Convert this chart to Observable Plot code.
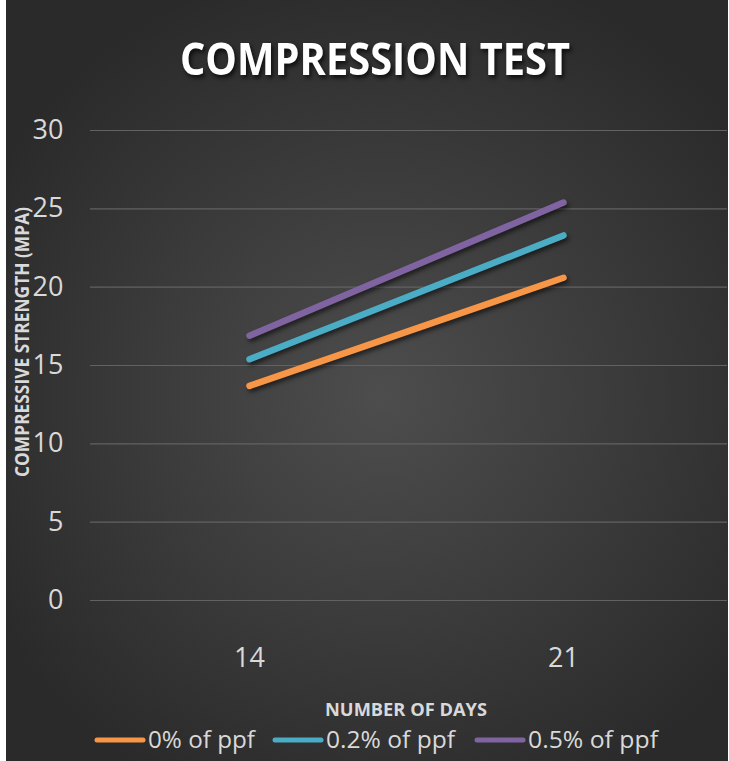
<!DOCTYPE html>
<html>
<head>
<meta charset="utf-8">
<script src="https://cdn.jsdelivr.net/npm/d3@7"></script>
<script src="https://cdn.jsdelivr.net/npm/@observablehq/plot@0.6"></script>
<style>
  html, body { margin: 0; padding: 0; background: #ffffff; }
  #wrap { position: relative; width: 729px; height: 761px; overflow: hidden; }
  #bg { position: absolute; left: 6px; top: 0; width: 722px; height: 761px;
        background: radial-gradient(ellipse 62% 58% at 52% 52%, #4d4d4d 0%, #3a3a3a 55%, #2a2a2a 100%); }
  #chart { position: absolute; left: 0; top: 100px; }
  #overlay { position: absolute; left: 0; top: 0; pointer-events: none; }
  #chart g[aria-label="line"] path { filter: drop-shadow(2px 3px 2px rgba(0,0,0,0.55)); }
  .title { filter: drop-shadow(2px 3px 2px rgba(0,0,0,0.7)); }
</style>
</head>
<body>
<div id="wrap">
  <div id="bg"></div>
  <div id="chart"></div>
  <svg id="overlay" width="729" height="761"></svg>
</div>
<script>
// ---- data ----
const days = [14, 21];
const seriesNames = ["0% of ppf", "0.2% of ppf", "0.5% of ppf"];
const ppf0 = [13.7, 20.6];
const ppf02 = [15.4, 23.3];
const ppf05 = [16.9, 25.4];
const seriesColors = ["#f79646", "#4bacc6", "#8064a2"];
const yTicks = [0, 5, 10, 15, 20, 25, 30];
const titleText = "COMPRESSION TEST";
const yTitle = "COMPRESSIVE STRENGTH (MPA)";
const xTitle = "NUMBER OF DAYS";

const seriesValues = [ppf0, ppf02, ppf05];
const rows = [];
seriesNames.forEach((name, i) => {
  days.forEach((d, j) => rows.push({ series: name, day: d, value: seriesValues[i][j] }));
});

const plot = Plot.plot({
  width: 729,
  height: 580,
  marginLeft: 90,
  marginRight: 2,
  marginTop: 30,
  marginBottom: 80,
  style: { background: "transparent", color: "#d9d9d9", fontFamily: "'Open Sans', sans-serif", fontSize: "27px", overflow: "visible" },
  x: { type: "point", domain: days, range: [249, 563], padding: 0 },
  y: { domain: [0, 30] },
  color: { domain: seriesNames, range: seriesColors },
  marks: [
    Plot.gridY(yTicks, { stroke: "#626262", strokeOpacity: 1, strokeWidth: 1.2 }),
    Plot.axisY(yTicks, { tickSize: 0, tickPadding: 27, label: null, fontSize: 27, fill: "#d9d9d9" }),
    Plot.axisX(days, { tickSize: 0, tickPadding: 47, label: null, fontSize: 27, fill: "#d9d9d9" }),
    Plot.line(rows, { x: "day", y: "value", z: "series", stroke: "series", strokeWidth: 6.5, strokeLinecap: "round" })
  ]
});
document.getElementById("chart").appendChild(plot);

// ---- overlay texts & legend ----
const ov = d3.select("#overlay");
ov.append("text").attr("class", "title")
  .attr("x", 375).attr("y", 75).attr("text-anchor", "middle")
  .attr("font-family", "'Open Sans', sans-serif").attr("font-weight", 700).attr("font-size", 45)
  .attr("fill", "#ffffff").attr("textLength", 390).attr("lengthAdjust", "spacingAndGlyphs")
  .text(titleText);

ov.append("text")
  .attr("transform", "translate(29,342) rotate(-90)").attr("text-anchor", "middle")
  .attr("font-family", "'Open Sans', sans-serif").attr("font-weight", 700).attr("font-size", 19)
  .attr("fill", "#d9d9d9").attr("textLength", 270).attr("lengthAdjust", "spacingAndGlyphs")
  .text(yTitle);

ov.append("text")
  .attr("x", 406).attr("y", 716).attr("text-anchor", "middle")
  .attr("font-family", "'Open Sans', sans-serif").attr("font-weight", 700).attr("font-size", 18)
  .attr("fill", "#d9d9d9").attr("textLength", 162).attr("lengthAdjust", "spacingAndGlyphs")
  .text(xTitle);

const legendX = [95, 273, 475];
const legendTextW = [107, 129, 130];
seriesNames.forEach((name, i) => {
  const g = ov.append("g");
  g.append("line").attr("x1", legendX[i] + 2).attr("x2", legendX[i] + 48)
    .attr("y1", 740).attr("y2", 740)
    .attr("stroke", seriesColors[i]).attr("stroke-width", 5).attr("stroke-linecap", "round");
  g.append("text").attr("x", legendX[i] + 53).attr("y", 748)
    .attr("font-family", "'Open Sans', sans-serif").attr("font-size", 24)
    .attr("fill", "#d9d9d9").attr("textLength", legendTextW[i]).attr("lengthAdjust", "spacingAndGlyphs")
    .text(name);
});
</script>
</body>
</html>
